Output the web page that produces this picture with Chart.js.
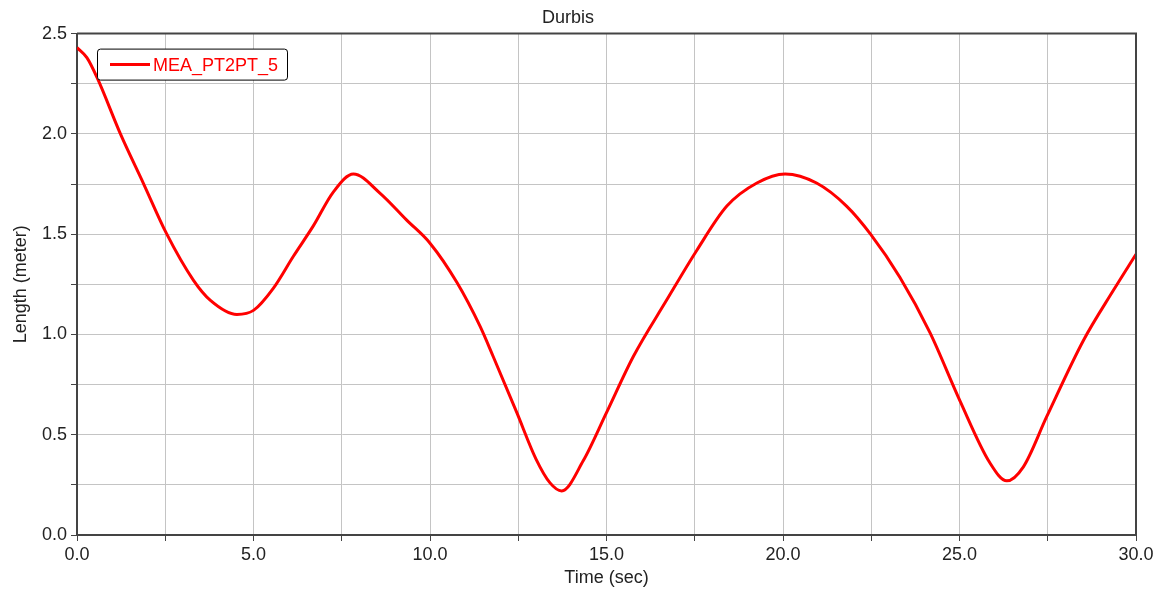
<!DOCTYPE html>
<html>
<head>
<meta charset="utf-8">
<script src="https://cdn.jsdelivr.net/npm/chart.js@4/dist/chart.umd.min.js"></script>
<style>
  html, body { margin: 0; padding: 0; background: #fff; }
  #wrap { width: 1164px; height: 599px; position: relative; }
</style>
</head>
<body>
<div id="wrap"><canvas id="chart"></canvas></div>
<script>
const chartTitle = "Durbis";
const seriesName = "MEA_PT2PT_5";
const xTitle = "Time (sec)";
const yTitle = "Length (meter)";

// values
const timeSec = [0, 0.28, 0.57, 1.23, 1.89, 2.53, 3.3, 3.78, 4.53, 5.0, 5.56, 6.13, 6.69,
  7.26, 7.83, 8.58, 9.34, 10.0, 10.76, 11.42, 11.79, 12.46, 13.0, 13.4, 13.73, 14.34, 15.0,
  15.76, 16.7, 17.56, 18.41, 19.26, 20.06, 20.95, 21.8, 22.48, 23.31, 24.16, 25.01, 25.86,
  26.34, 26.81, 27.47, 28.51, 29.36, 30.0];
const lengthM = [2.43, 2.38, 2.28, 2.00, 1.75, 1.505, 1.27, 1.17, 1.10, 1.12, 1.23, 1.39, 1.54,
  1.71, 1.80, 1.705, 1.57, 1.455, 1.26, 1.04, 0.89, 0.61, 0.38, 0.26, 0.22, 0.37, 0.61,
  0.89, 1.17, 1.42, 1.64, 1.755, 1.80, 1.755, 1.64, 1.50, 1.285, 1.01, 0.67, 0.36,
  0.27, 0.34, 0.59, 0.97, 1.22, 1.40];

const font = "'Liberation Sans', Arial, sans-serif";
const axisColor = "#444";

// frame on top/right plus the legend box inside the plot
const framePlugin = {
  id: "frame",
  afterDraw(chart) {
    const { ctx, chartArea: a } = chart;
    ctx.save();
    ctx.strokeStyle = axisColor;
    ctx.lineWidth = 2;
    ctx.beginPath();
    ctx.moveTo(a.left, a.top);
    ctx.lineTo(a.right, a.top);
    ctx.lineTo(a.right, a.bottom);
    ctx.stroke();

    const ds = chart.data.datasets[0];
    const bx = a.left + 20, by = a.top + 15, bw = 190, bh = 31;
    ctx.fillStyle = "#fff";
    ctx.strokeStyle = "#000";
    ctx.lineWidth = 1;
    ctx.beginPath();
    ctx.roundRect(bx + 0.5, by + 0.5, bw, bh, 3);
    ctx.fill();
    ctx.stroke();
    ctx.strokeStyle = ds.borderColor;
    ctx.lineWidth = 3;
    ctx.beginPath();
    ctx.moveTo(bx + 13, by + 16);
    ctx.lineTo(bx + 53, by + 16);
    ctx.stroke();
    ctx.fillStyle = ds.borderColor;
    ctx.font = "18px " + font;
    ctx.textBaseline = "middle";
    ctx.fillText(ds.label, bx + 56, by + 17);
    ctx.restore();
  }
};

new Chart(document.getElementById("chart"), {
  type: "line",
  data: {
    datasets: [{
      label: seriesName,
      data: timeSec.map((t, i) => ({ x: t, y: lengthM[i] })),
      borderColor: "#ff0000",
      borderWidth: 3,
      pointRadius: 0,
      cubicInterpolationMode: "monotone",
      fill: false
    }]
  },
  options: {
    responsive: true,
    maintainAspectRatio: false,
    animation: false,
    layout: { padding: { left: 0, right: 28, top: 0, bottom: 0 } },
    plugins: {
      legend: { display: false },
      tooltip: { enabled: false },
      title: {
        display: true,
        text: chartTitle,
        color: "#222",
        font: { family: font, size: 18, weight: "normal" },
        padding: { top: 7, bottom: 5 }
      }
    },
    scales: {
      x: {
        type: "linear",
        min: 0,
        max: 30,
        afterFit: s => { s.height = 64; },
        border: { display: true, color: axisColor, width: 2 },
        grid: { color: "#c4c4c4", lineWidth: 1, tickColor: axisColor, tickLength: 6 },
        ticks: {
          stepSize: 2.5,
          autoSkip: false,
          maxRotation: 0,
          padding: 3,
          color: "#222",
          font: { family: font, size: 18 },
          callback: v => (v % 5 === 0 ? v.toFixed(1) : "")
        },
        title: {
          display: true,
          text: xTitle,
          color: "#222",
          font: { family: font, size: 18 },
          padding: { top: 10, bottom: 10 }
        }
      },
      y: {
        min: 0,
        max: 2.5,
        afterFit: s => { s.width = 77; },
        border: { display: true, color: axisColor, width: 2 },
        grid: { color: "#c4c4c4", lineWidth: 1, tickColor: axisColor, tickLength: 6 },
        ticks: {
          stepSize: 0.25,
          autoSkip: false,
          padding: 4,
          color: "#222",
          font: { family: font, size: 18 },
          callback: v => (Math.abs(v * 2 - Math.round(v * 2)) < 1e-6 ? v.toFixed(1) : "")
        },
        title: {
          display: true,
          text: yTitle,
          color: "#222",
          font: { family: font, size: 18 },
          padding: { top: 10, bottom: 10 }
        }
      }
    }
  },
  plugins: [framePlugin]
});
</script>
</body>
</html>
